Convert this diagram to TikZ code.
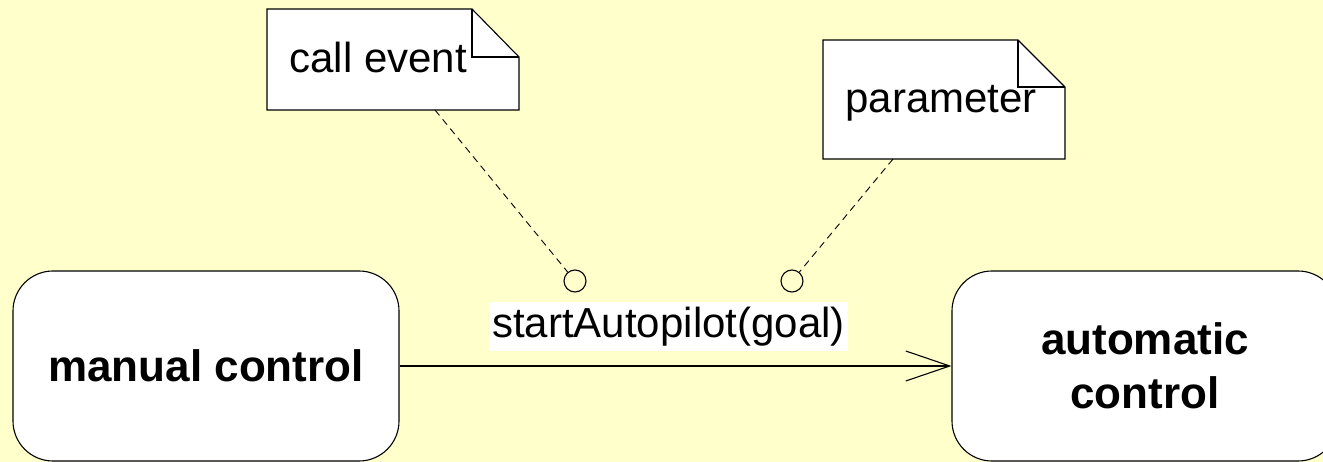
\documentclass[tikz,border=0pt]{standalone}
\usepackage{fontspec}
\setmainfont{Liberation Sans}
\usetikzlibrary{arrows.meta}
\definecolor{paper}{RGB}{255,255,204}

\begin{document}
\begin{tikzpicture}[x=1pt,y=-1pt,line width=1.1pt,
  txt/.style={font=\fontsize{42}{50}\selectfont},
  statebox/.style={draw,fill=white,rounded corners=40pt,minimum width=386pt,minimum height=190pt,
    align=center,font=\fontsize{44}{54}\selectfont\bfseries},
  pin/.style={draw,circle,minimum size=22pt,inner sep=0pt},
  tie/.style={dash pattern=on 7pt off 5pt,line width=0.9pt}]
  % paper
  \useasboundingbox (0,0) rectangle (1323,462);
  \fill[paper] (0,0) rectangle (1323,462);
  \clip (0,0) rectangle (1323,462);
  % states
  \node[statebox] (manual) at (206,366) {manual control};
  \node[statebox] (auto) at (1145,366) {automatic\\control};
  \draw[-{Straight Barb[length=44pt,width=30pt]}] (manual) -- (auto)
    node[txt,fill=white,midway,above=14pt,xshift=-7pt,inner xsep=3pt,inner ysep=5pt] (trigger) {startAutopilot(goal)};
  % note: call event
  \draw[fill=white] (267,9) -- (472,9) -- (519,57) -- (519,110) -- (267,110) -- cycle;
  \draw (472,9) |- (519,57);
  \node[txt,anchor=base west,inner sep=0pt] (calltxt) at (289,73) {call event};
  \coordinate (callfoot) at (435,110);
  \node[pin] (callpin) at (575,281) {};
  \draw[tie] (callfoot) -- (callpin);
  % note: parameter
  \draw[fill=white] (823,40) -- (1018,40) -- (1065,87) -- (1065,159) -- (823,159) -- cycle;
  \draw (1018,40) |- (1065,87);
  \node[txt,anchor=base west,inner sep=0pt] (paramtxt) at (845,113) {parameter};
  \coordinate (paramfoot) at (893,159);
  \node[pin] (parampin) at (792,281) {};
  \draw[tie] (paramfoot) -- (parampin);
\end{tikzpicture}
\end{document}
